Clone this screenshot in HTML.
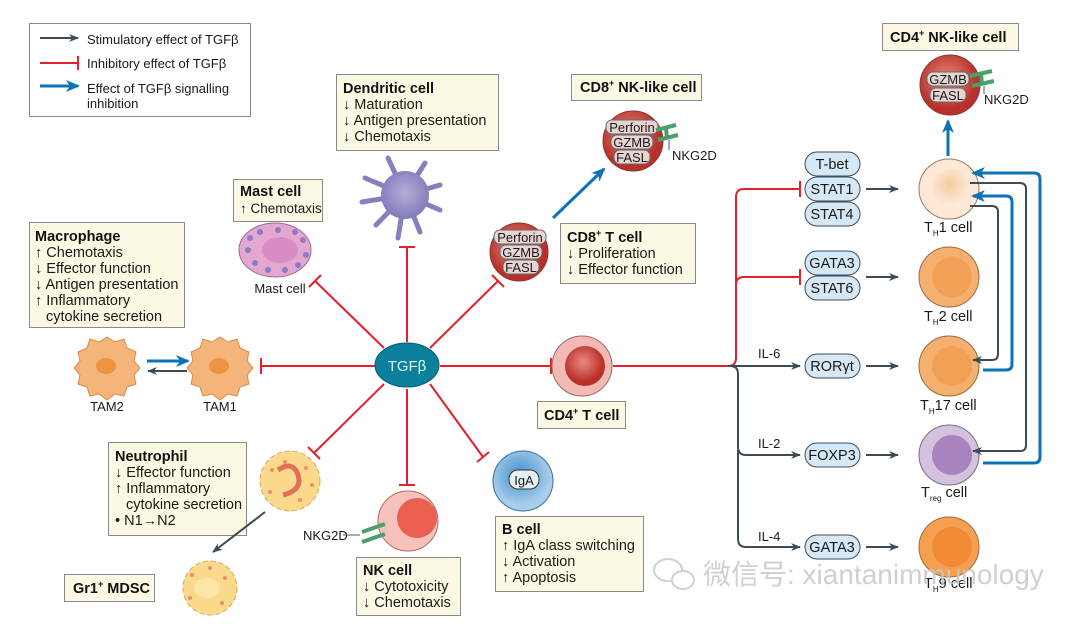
<!DOCTYPE html>
<html><head><meta charset="utf-8"><style>
html,body{margin:0;padding:0;background:#fff;}
svg{display:block;font-family:"Liberation Sans","Noto Sans CJK SC",sans-serif;}
.box{fill:#fbf9e3;stroke:#8a8a8a;stroke-width:1;}
.t{font-size:14.5px;fill:#1a1a1a;}
.b{font-size:14.5px;font-weight:bold;fill:#111;}
.s{font-size:13px;fill:#1a1a1a;}
.red{stroke:#e3202b;stroke-width:2;fill:none;}
.dk{stroke:#3d4b57;stroke-width:2;fill:none;}
.bl{stroke:#0d72b8;stroke-width:3;fill:none;}
.pill{fill:#d6e8f5;stroke:#3d4b57;stroke-width:1;}
.gp{fill:#e8d3d3;stroke:#666;stroke-width:1;}
</style></head><body>
<svg width="1080" height="624" viewBox="0 0 1080 624">
<defs>
<marker id="ad" markerWidth="10" markerHeight="8" refX="9" refY="4" orient="auto" markerUnits="userSpaceOnUse"><path d="M0,0 L10,4 L0,8 L3,4z" fill="#3d4b57"/></marker>
<marker id="ab" markerWidth="14" markerHeight="12" refX="12" refY="6" orient="auto" markerUnits="userSpaceOnUse"><path d="M0,0 L14,6 L0,12 L4,6z" fill="#0d72b8"/></marker>
<radialGradient id="gRed" cx="45%" cy="40%"><stop offset="0" stop-color="#e98a80"/><stop offset="1" stop-color="#b9302a"/></radialGradient>
<radialGradient id="gPink" cx="45%" cy="40%"><stop offset="0" stop-color="#e68a80"/><stop offset="1" stop-color="#f2bab2"/></radialGradient>
<radialGradient id="gOr" cx="45%" cy="40%"><stop offset="0" stop-color="#f7b36e"/><stop offset="1" stop-color="#ee8c3a"/></radialGradient>
<radialGradient id="gLt" cx="45%" cy="40%"><stop offset="0" stop-color="#f5cba0"/><stop offset="1" stop-color="#fde9d6"/></radialGradient>
<radialGradient id="gPu" cx="45%" cy="40%"><stop offset="0" stop-color="#a883bd"/><stop offset="1" stop-color="#d3c1de"/></radialGradient>
<radialGradient id="gBl" cx="45%" cy="40%"><stop offset="0" stop-color="#3f8fcb"/><stop offset="1" stop-color="#a9cdea"/></radialGradient>
<radialGradient id="gDc" cx="50%" cy="45%"><stop offset="0" stop-color="#b3afd8"/><stop offset="1" stop-color="#8580bd"/></radialGradient>
</defs>

<!-- legend -->
<rect x="29.5" y="23.5" width="221" height="93" fill="#fff" stroke="#888"/>
<line x1="40" y1="38" x2="78" y2="38" class="dk" marker-end="url(#ad)"/>
<text x="87" y="44" class="s">Stimulatory effect of TGFβ</text>
<line x1="40" y1="63" x2="78" y2="63" class="red"/><line x1="78" y1="56" x2="78" y2="70" class="red"/>
<text x="87" y="68" class="s">Inhibitory effect of TGFβ</text>
<line x1="40" y1="86" x2="78" y2="86" class="bl" marker-end="url(#ab)"/>
<text x="87" y="93" class="s">Effect of TGFβ signalling</text>
<text x="87" y="108" class="s">inhibition</text>

<!-- red spokes -->
<line x1="375" y1="366" x2="261" y2="366" class="red"/><line x1="261" y1="358" x2="261" y2="374" class="red"/>
<line x1="407" y1="342" x2="407" y2="247" class="red"/><line x1="399" y1="247" x2="415" y2="247" class="red"/>
<line x1="384" y1="348" x2="315" y2="281" class="red"/><line x1="309" y1="287" x2="321" y2="275" class="red"/>
<line x1="430" y1="348" x2="498" y2="281" class="red"/><line x1="492" y1="275" x2="504" y2="287" class="red"/>
<line x1="440" y1="366" x2="551" y2="366" class="red"/><line x1="551" y1="358" x2="551" y2="374" class="red"/>
<line x1="384" y1="384" x2="314" y2="453" class="red"/><line x1="308" y1="447" x2="320" y2="459" class="red"/>
<line x1="407" y1="389" x2="407" y2="485" class="red"/><line x1="399" y1="485" x2="415" y2="485" class="red"/>
<line x1="430" y1="384" x2="483" y2="457" class="red"/><line x1="477" y1="462" x2="489" y2="452" class="red"/>

<!-- TGFb -->
<ellipse cx="407" cy="365" rx="32" ry="22" fill="#0c7f9d" stroke="#095f76"/>
<text x="407" y="371" text-anchor="middle" font-size="15" fill="#dff">TGFβ</text>

<!-- dendritic -->
<rect x="336.5" y="74.5" width="162" height="76" class="box"/>
<text x="343" y="93" class="b">Dendritic cell</text>
<text x="343" y="109" class="t">↓ Maturation</text>
<text x="343" y="125" class="t">↓ Antigen presentation</text>
<text x="343" y="141" class="t">↓ Chemotaxis</text>
<g stroke="#8580bd" stroke-width="5" stroke-linecap="round">
<line x1="405" y1="195" x2="388" y2="158"/><line x1="405" y1="195" x2="425" y2="163"/><line x1="405" y1="195" x2="365" y2="178"/><line x1="405" y1="195" x2="440" y2="185"/><line x1="405" y1="195" x2="362" y2="202"/><line x1="405" y1="195" x2="440" y2="210"/><line x1="405" y1="195" x2="398" y2="238"/><line x1="405" y1="195" x2="420" y2="232"/><line x1="405" y1="195" x2="376" y2="225"/></g>
<circle cx="405" cy="195" r="24" fill="url(#gDc)"/>

<!-- mast -->
<rect x="233.5" y="179.5" width="89" height="42" class="box"/>
<text x="240" y="196" class="b">Mast cell</text>
<text x="240" y="213" font-size="13.5" fill="#1a1a1a">↑ Chemotaxis</text>
<ellipse cx="275" cy="250" rx="36" ry="27" fill="#e3a7d0" stroke="#9b6a90"/>
<ellipse cx="280" cy="250" rx="18" ry="13" fill="#d88cc4"/>
<g fill="#8d7cc3"><circle cx="250" cy="238" r="3"/><circle cx="260" cy="232" r="3"/><circle cx="278" cy="230" r="3"/><circle cx="295" cy="232" r="3"/><circle cx="303" cy="240" r="3"/><circle cx="306" cy="255" r="3"/><circle cx="298" cy="265" r="3"/><circle cx="285" cy="270" r="3"/><circle cx="268" cy="270" r="3"/><circle cx="255" cy="263" r="3"/><circle cx="248" cy="250" r="3"/></g>
<text x="280" y="293" text-anchor="middle" class="s">Mast cell</text>

<!-- macrophage -->
<rect x="29.5" y="222.5" width="155" height="105" class="box"/>
<text x="35" y="241" class="b">Macrophage</text>
<text x="35" y="257" class="t">↑ Chemotaxis</text>
<text x="35" y="273" class="t">↓ Effector function</text>
<text x="35" y="289" class="t">↓ Antigen presentation</text>
<text x="35" y="305" class="t">↑ Inflammatory</text>
<text x="46" y="321" class="t">cytokine secretion</text>
<g fill="#f5b47a" stroke="#d98b4a">
<path d="M107,337 l8,5 9,-3 3,9 9,4 -2,9 6,7 -6,7 2,9 -9,3 -3,9 -9,-2 -8,6 -8,-6 -9,2 -3,-9 -9,-3 2,-9 -6,-7 6,-7 -2,-9 9,-4 3,-9 9,3z"/>
<path d="M220,337 l8,5 9,-3 3,9 9,4 -2,9 6,7 -6,7 2,9 -9,3 -3,9 -9,-2 -8,6 -8,-6 -9,2 -3,-9 -9,-3 2,-9 -6,-7 6,-7 -2,-9 9,-4 3,-9 9,3z"/></g>
<ellipse cx="106" cy="366" rx="10" ry="8" fill="#ee9440"/><ellipse cx="219" cy="366" rx="10" ry="8" fill="#ee9440"/>
<text x="107" y="411" text-anchor="middle" class="s">TAM2</text>
<text x="220" y="411" text-anchor="middle" class="s">TAM1</text>
<line x1="147" y1="361" x2="188" y2="361" class="bl" marker-end="url(#ab)"/>
<line x1="187" y1="371" x2="148" y2="371" class="dk" marker-end="url(#ad)"/>

<!-- neutrophil -->
<rect x="108.5" y="442.5" width="138" height="93" class="box"/>
<text x="115" y="461" class="b">Neutrophil</text>
<text x="115" y="477" class="t">↓ Effector function</text>
<text x="115" y="493" class="t">↑ Inflammatory</text>
<text x="126" y="509" class="t">cytokine secretion</text>
<text x="115" y="525" class="t">• N1→N2</text>
<circle cx="290" cy="481" r="30" fill="#fbd98a" stroke="#d9a85a" stroke-dasharray="5 3"/>
<g fill="#f08a70"><circle cx="272" cy="470" r="2"/><circle cx="306" cy="468" r="2"/><circle cx="270" cy="492" r="2"/><circle cx="300" cy="500" r="2"/><circle cx="285" cy="462" r="2"/><circle cx="312" cy="485" r="2"/></g>
<path d="M278,470 q15,-10 20,5 q5,15 -15,20" stroke="#e0705a" stroke-width="5" fill="none"/>
<line x1="265" y1="512" x2="213" y2="552" class="dk" marker-end="url(#ad)"/>
<circle cx="210" cy="588" r="27" fill="#fbd98a" stroke="#d9a85a" stroke-dasharray="5 3"/>
<ellipse cx="207" cy="588" rx="13" ry="10" fill="#fce6aa"/>
<g fill="#f08a70"><circle cx="192" cy="575" r="2"/><circle cx="225" cy="578" r="2"/><circle cx="190" cy="598" r="2"/><circle cx="222" cy="603" r="2"/><circle cx="210" cy="568" r="2"/></g>
<rect x="64.5" y="574.5" width="90" height="27" class="box"/>
<text x="73" y="593" class="b">Gr1<tspan font-size="9" dy="-6">+</tspan><tspan dy="6"> MDSC</tspan></text>

<!-- NK -->
<circle cx="408" cy="521" r="30" fill="#f7c2bc" stroke="#b56a62"/>
<circle cx="417" cy="518" r="20" fill="#ea5f50"/>
<text x="303" y="540" class="s">NKG2D</text>
<line x1="343" y1="535" x2="360" y2="535" stroke="#555"/>
<g stroke="#4b9f6b" stroke-width="4"><line x1="362" y1="532" x2="385" y2="524"/><line x1="362" y1="542" x2="385" y2="534"/></g>
<rect x="356.5" y="557.5" width="104" height="58" class="box"/>
<text x="363" y="575" class="b">NK cell</text>
<text x="363" y="591" class="t">↓ Cytotoxicity</text>
<text x="363" y="607" class="t">↓ Chemotaxis</text>

<!-- B cell -->
<circle cx="523" cy="481" r="30" fill="url(#gBl)" stroke="#3a6f9a"/>
<rect x="509" y="470" width="30" height="19" rx="9" fill="#e6eef6" stroke="#333"/>
<text x="524" y="485" text-anchor="middle" class="s">IgA</text>
<rect x="495.5" y="516.5" width="148" height="75" class="box"/>
<text x="502" y="534" class="b">B cell</text>
<text x="502" y="550" class="t">↑ IgA class switching</text>
<text x="502" y="566" class="t">↓ Activation</text>
<text x="502" y="582" class="t">↑ Apoptosis</text>

<!-- CD8 T -->
<circle cx="519" cy="252" r="29" fill="url(#gRed)" stroke="#8a3a34"/>
<rect x="494" y="230" width="52" height="14" rx="6" class="gp"/><text x="520" y="242" text-anchor="middle" class="s">Perforin</text>
<rect x="500" y="245" width="42" height="14" rx="6" class="gp"/><text x="521" y="257" text-anchor="middle" class="s">GZMB</text>
<rect x="503" y="260" width="36" height="14" rx="6" class="gp"/><text x="521" y="272" text-anchor="middle" class="s">FASL</text>
<rect x="560.5" y="223.5" width="135" height="60" class="box"/>
<text x="567" y="242" class="b">CD8<tspan font-size="9" dy="-6">+</tspan><tspan dy="6"> T cell</tspan></text>
<text x="567" y="258" class="t">↓ Proliferation</text>
<text x="567" y="274" class="t">↓ Effector function</text>
<line x1="553" y1="218" x2="604" y2="169" class="bl" marker-end="url(#ab)"/>

<!-- CD8 NK-like -->
<rect x="571.5" y="74.5" width="130" height="26" class="box"/>
<text x="580" y="92" class="b">CD8<tspan font-size="9" dy="-6">+</tspan><tspan dy="6"> NK-like cell</tspan></text>
<circle cx="633" cy="141" r="30" fill="url(#gRed)" stroke="#8a3a34"/>
<rect x="606" y="120" width="52" height="14" rx="6" class="gp"/><text x="632" y="132" text-anchor="middle" class="s">Perforin</text>
<rect x="611" y="135" width="42" height="14" rx="6" class="gp"/><text x="632" y="147" text-anchor="middle" class="s">GZMB</text>
<rect x="614" y="150" width="36" height="14" rx="6" class="gp"/><text x="632" y="162" text-anchor="middle" class="s">FASL</text>
<g stroke="#4b9f6b" stroke-width="4"><line x1="656" y1="130" x2="676" y2="125"/><line x1="658" y1="140" x2="678" y2="135"/><line x1="666" y1="128" x2="667" y2="138"/></g>
<line x1="669" y1="140" x2="669" y2="150" stroke="#555"/>
<text x="672" y="160" class="s">NKG2D</text>

<!-- CD4 T -->
<circle cx="582" cy="366" r="30" fill="#f2bab2" stroke="#9a6a62"/>
<circle cx="585" cy="366" r="20" fill="url(#gRed)"/>
<rect x="537.5" y="401.5" width="88" height="27" class="box"/>
<text x="544" y="420" class="b">CD4<tspan font-size="9" dy="-6">+</tspan><tspan dy="6"> T cell</tspan></text>

<!-- branch lines -->
<path d="M613,366 H728 q8,0 8,-8 V197 q0,-8 8,-8 H800" class="red"/><line x1="800" y1="181" x2="800" y2="197" class="red"/>
<path d="M736,285 q0,-8 8,-8 H800" class="red"/><line x1="800" y1="269" x2="800" y2="285" class="red"/>
<line x1="728" y1="366" x2="800" y2="366" class="dk" marker-end="url(#ad)"/>
<path d="M730,366 q8,0 8,8 V447 q0,8 8,8 H800" class="dk" marker-end="url(#ad)"/>
<path d="M738,450 V539 q0,8 8,8 H800" class="dk" marker-end="url(#ad)"/>
<text x="758" y="358" class="s">IL-6</text>
<text x="758" y="448" class="s">IL-2</text>
<text x="758" y="541" class="s">IL-4</text>

<!-- pills -->
<g>
<rect x="805" y="152" width="55" height="24" rx="12" class="pill"/><text x="832" y="169" text-anchor="middle" class="t">T-bet</text>
<rect x="805" y="177" width="55" height="24" rx="12" class="pill"/><text x="832" y="194" text-anchor="middle" class="t">STAT1</text>
<rect x="805" y="202" width="55" height="24" rx="12" class="pill"/><text x="832" y="219" text-anchor="middle" class="t">STAT4</text>
<rect x="805" y="251" width="55" height="24" rx="12" class="pill"/><text x="832" y="268" text-anchor="middle" class="t">GATA3</text>
<rect x="805" y="276" width="55" height="24" rx="12" class="pill"/><text x="832" y="293" text-anchor="middle" class="t">STAT6</text>
<rect x="805" y="354" width="55" height="24" rx="12" class="pill"/><text x="832" y="371" text-anchor="middle" class="t">RORγt</text>
<rect x="805" y="443" width="55" height="24" rx="12" class="pill"/><text x="832" y="460" text-anchor="middle" class="t">FOXP3</text>
<rect x="805" y="535" width="55" height="24" rx="12" class="pill"/><text x="832" y="552" text-anchor="middle" class="t">GATA3</text>
</g>
<line x1="866" y1="189" x2="898" y2="189" class="dk" marker-end="url(#ad)"/>
<line x1="866" y1="277" x2="898" y2="277" class="dk" marker-end="url(#ad)"/>
<line x1="866" y1="366" x2="898" y2="366" class="dk" marker-end="url(#ad)"/>
<line x1="866" y1="455" x2="898" y2="455" class="dk" marker-end="url(#ad)"/>
<line x1="866" y1="547" x2="898" y2="547" class="dk" marker-end="url(#ad)"/>

<!-- T helper cells -->
<circle cx="949" cy="189" r="30" fill="#fde9d6" stroke="#9a7a62"/><circle cx="952" cy="189" r="20" fill="url(#gLt)"/>
<circle cx="949" cy="277" r="30" fill="#f5b070" stroke="#9a6a42"/><circle cx="952" cy="277" r="20" fill="#f2a055"/>
<circle cx="949" cy="366" r="30" fill="#f5b070" stroke="#9a6a42"/><circle cx="952" cy="366" r="20" fill="#f2a055"/>
<circle cx="949" cy="455" r="30" fill="#d3c1de" stroke="#7a6a8a"/><circle cx="952" cy="455" r="20" fill="#a883bd"/>
<circle cx="949" cy="547" r="30" fill="#f5a050" stroke="#9a6a42"/><circle cx="952" cy="547" r="20" fill="#f08a35"/>
<text x="924" y="232" class="t">T<tspan font-size="8" dy="4">H</tspan><tspan dy="-4">1 cell</tspan></text>
<text x="924" y="321" class="t">T<tspan font-size="8" dy="4">H</tspan><tspan dy="-4">2 cell</tspan></text>
<text x="920" y="410" class="t">T<tspan font-size="8" dy="4">H</tspan><tspan dy="-4">17 cell</tspan></text>
<text x="921" y="497" class="t">T<tspan font-size="8" dy="4">reg</tspan><tspan dy="-4"> cell</tspan></text>
<text x="924" y="588" class="t">T<tspan font-size="8" dy="4">H</tspan><tspan dy="-4">9 cell</tspan></text>

<!-- feedback loops -->
<path d="M970,206 H992 q6,0 6,6 V354 q0,6 -6,6 H973" class="dk" marker-end="url(#ad)"/>
<path d="M970,183 H1020 q6,0 6,6 V445 q0,6 -6,6 H973" class="dk" marker-end="url(#ad)"/>
<path d="M983,370 H1006 q6,0 6,-6 V202 q0,-6 -6,-6 H973" class="bl" marker-end="url(#ab)"/>
<path d="M983,463 H1034 q6,0 6,-6 V179 q0,-6 -6,-6 H973" class="bl" marker-end="url(#ab)"/>

<!-- CD4 NK-like -->
<line x1="948" y1="156" x2="948" y2="121" class="bl" marker-end="url(#ab)"/>
<rect x="882.5" y="23.5" width="136" height="27" class="box"/>
<text x="890" y="42" class="b">CD4<tspan font-size="9" dy="-6">+</tspan><tspan dy="6"> NK-like cell</tspan></text>
<circle cx="950" cy="85" r="30" fill="url(#gRed)" stroke="#8a3a34"/>
<rect x="927" y="72" width="42" height="14" rx="6" class="gp"/><text x="948" y="84" text-anchor="middle" class="s">GZMB</text>
<rect x="930" y="88" width="36" height="14" rx="6" class="gp"/><text x="948" y="100" text-anchor="middle" class="s">FASL</text>
<g stroke="#4b9f6b" stroke-width="4"><line x1="970" y1="76" x2="992" y2="71"/><line x1="972" y1="86" x2="994" y2="81"/><line x1="981" y1="74" x2="982" y2="84"/></g>
<line x1="984" y1="86" x2="984" y2="94" stroke="#555"/>
<text x="984" y="104" class="s">NKG2D</text>

<!-- watermark -->
<ellipse cx="668" cy="570" rx="14" ry="11" fill="none" stroke="#cfcfcf" stroke-width="2"/>
<ellipse cx="683" cy="580" rx="11" ry="9" fill="#fff" stroke="#cfcfcf" stroke-width="2"/>
<text x="703" y="584" font-size="28" fill="#c8c8c8" fill-opacity="0.85" font-family="'Liberation Sans','Noto Sans CJK SC',sans-serif">微信号: xiantanimmunology</text>
</svg>
</body></html>
